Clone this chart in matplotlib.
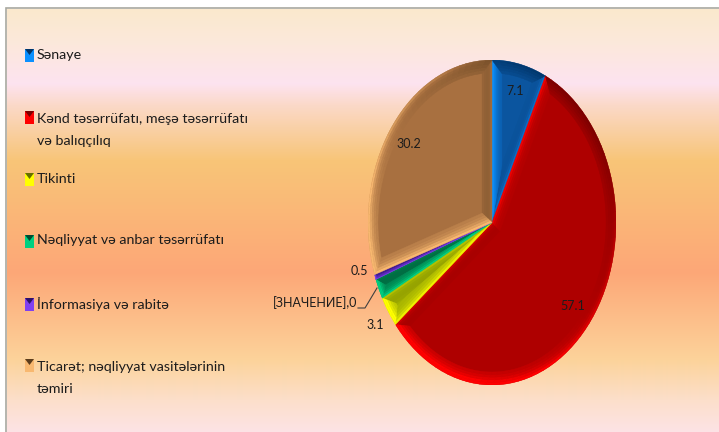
import numpy as np
import matplotlib
matplotlib.use('Agg')
import matplotlib.pyplot as plt
from matplotlib.collections import PolyCollection
from matplotlib.colors import to_rgb
from matplotlib.patches import Polygon, Rectangle

plt.rcParams['font.family'] = ['Lato', 'DejaVu Sans']

# Data
categories = ['Sənaye', 'Kənd təsərrüfatı, meşə təsərrüfatı\nvə balıqçılıq', 'Tikinti',
              'Nəqliyyat və anbar təsərrüfatı', 'İnformasiya və rabitə',
              'Ticarət; nəqliyyat vasitələrinin\ntəmiri']
values = [7.1, 57.1, 3.1, 2.0, 0.5, 30.2]
value_labels = ['7.1', '57.1', '3.1', '[ЗНАЧЕНИЕ],0', '0.5', '30.2']

# Colours: face, bright side, dark side
faces = ['#0b559f', '#ae0000', '#a2b000', '#007a4a', '#4b1fa0', '#a87040']
brights = ['#0a90ff', '#ff0000', '#ffff00', '#00d080', '#8040f0', '#f8b870']
darks = ['#003468', '#780000', '#667000', '#004a30', '#2c1068', '#5a3c1c']

W, H = 719, 432
fig = plt.figure(figsize=(W / 100, H / 100), dpi=100, facecolor='white')

# Background and annotations use a pixel-sized axes
bg = fig.add_axes([0, 0, 1, 1])
bg.set_xlim(0, W)
bg.set_ylim(H, 0)
bg.axis('off')
stops_y = [9, 45, 83, 105, 160, 272, 360, 400, 432]
stops_c = ['#fae9cd', '#fce8dc', '#fde3f0', '#fbd9c8', '#f8c578', '#fda777', '#fcd39b', '#fcdfcb', '#fde3e6']
rows = np.arange(9, H)
grad = np.array([np.interp(rows, stops_y, [to_rgb(c)[i] for c in stops_c]) for i in range(3)]).T
bg.imshow(grad[:, None, :], extent=[7, W, H, 9], aspect='auto', interpolation='bilinear')
bg.set_xlim(0, W)
bg.set_ylim(H, 0)
bg.plot([6, 6, W], [H, 8, 8], color='#a8a8a0', lw=1.2, solid_joinstyle='miter')

# Pie
ax = fig.add_axes([368 / W, 1 - 385 / H, 248 / W, 325 / H])
wedges, _ = ax.pie(values, colors=faces, startangle=90, counterclock=False, radius=1)
ax.set_aspect('auto')
ax.set_xlim(-1, 1)
ax.set_ylim(-1, 1)

BEVEL = 0.08
LIGHT = np.array([-0.6, -0.8])
STRIPS = 5


def shade(i, level):
    base = np.array(to_rgb(faces[i]))
    target = np.array(to_rgb(brights[i] if level > 0 else darks[i]))
    return base + (target - base) * min(abs(level), 1)


def polar(r, deg):
    return np.array([r * np.cos(np.radians(deg)), r * np.sin(np.radians(deg))])


def add_facet(polys, cols, i, outer_a, outer_b, inner_b, inner_a, normal_deg):
    # split the facet into strips so it looks rounded
    level = np.dot(polar(1, normal_deg), LIGHT)
    rim_light = 0.8 * np.clip((level + 0.9) / 0.4, 0, 1)
    for k in range(STRIPS):
        f0, f1 = k / STRIPS, (k + 1) / STRIPS
        f = (f0 + f1) / 2
        polys.append([outer_a + (inner_a - outer_a) * f0, outer_b + (inner_b - outer_b) * f0,
                      outer_b + (inner_b - outer_b) * f1, outer_a + (inner_a - outer_a) * f1])
        cols.append(shade(i, level * (1 - 0.7 * f) + rim_light * (1 - f) ** 3))


polys, cols = [], []
for i, w in enumerate(wedges):
    t1, t2 = w.theta1, w.theta2
    half = (t2 - t1) / 2
    mid = (t1 + t2) / 2
    s = np.sin(np.radians(half))
    a = np.degrees(np.arcsin(BEVEL / (1 - BEVEL)))
    n = max(2, int((t2 - t1) / 3))
    angles = np.linspace(t1, t2, n + 1)
    if half > a:
        inner_angles = np.linspace(t1 + a, t2 - a, n + 1)
        inner = [polar(1 - BEVEL, d) for d in inner_angles]
        apex = polar(BEVEL / s, mid)
    else:
        apex = polar(1 / (1 + s), mid)
        inner = [apex] * (n + 1)
    outer = [polar(1, d) for d in angles]
    origin = np.zeros(2)
    add_facet(polys, cols, i, origin, outer[0], inner[0], apex, t1 - 90)
    add_facet(polys, cols, i, origin, outer[-1], inner[-1], apex, t2 + 90)
    for j in range(n):
        add_facet(polys, cols, i, outer[j], outer[j + 1], inner[j + 1], inner[j], (angles[j] + angles[j + 1]) / 2)
ax.add_collection(PolyCollection(polys, facecolors=cols, edgecolors=cols, linewidths=0.3, zorder=3))

# Value labels
label_offsets = [(0, 0), (0, 0), (-13, -13), (-64, -14), (-16, 6), (0, 0)]
for w, txt, off in zip(wedges, value_labels, label_offsets):
    mid = (w.theta1 + w.theta2) / 2
    inside = off == (0, 0)
    xy = polar(0.83 if inside else 1.0, mid)
    ax.annotate(txt, xy=xy, xytext=off, textcoords='offset pixels', ha='center', va='center',
                fontsize=9, color='#1c1c1c', zorder=5, annotation_clip=False)
bg.plot([358, 365, 377], [308, 308, 288], color='#404040', lw=0.8)

# Legend
legend_tops = [49, 111, 173, 235, 298, 359]
legend_text_y = [55, 130, 179, 240, 304, 378]
bg2 = fig.add_axes([0, 0, 1, 1], facecolor='none')
bg2.set_xlim(0, W)
bg2.set_ylim(H, 0)
bg2.axis('off')
for i, name in enumerate(categories):
    top = legend_tops[i]
    bg2.add_patch(Rectangle((25, top), 9, 12.5, facecolor=brights[i], edgecolor='none'))
    bg2.add_patch(Polygon([(25, top), (34, top), (29.5, top + 6)], facecolor=darks[i], edgecolor='none'))
    bg2.text(37, legend_text_y[i], name, fontsize=10.3, color='#1c1c1c', va='center', ha='left', linespacing=2.0)

fig.savefig('out.png', dpi=100)
